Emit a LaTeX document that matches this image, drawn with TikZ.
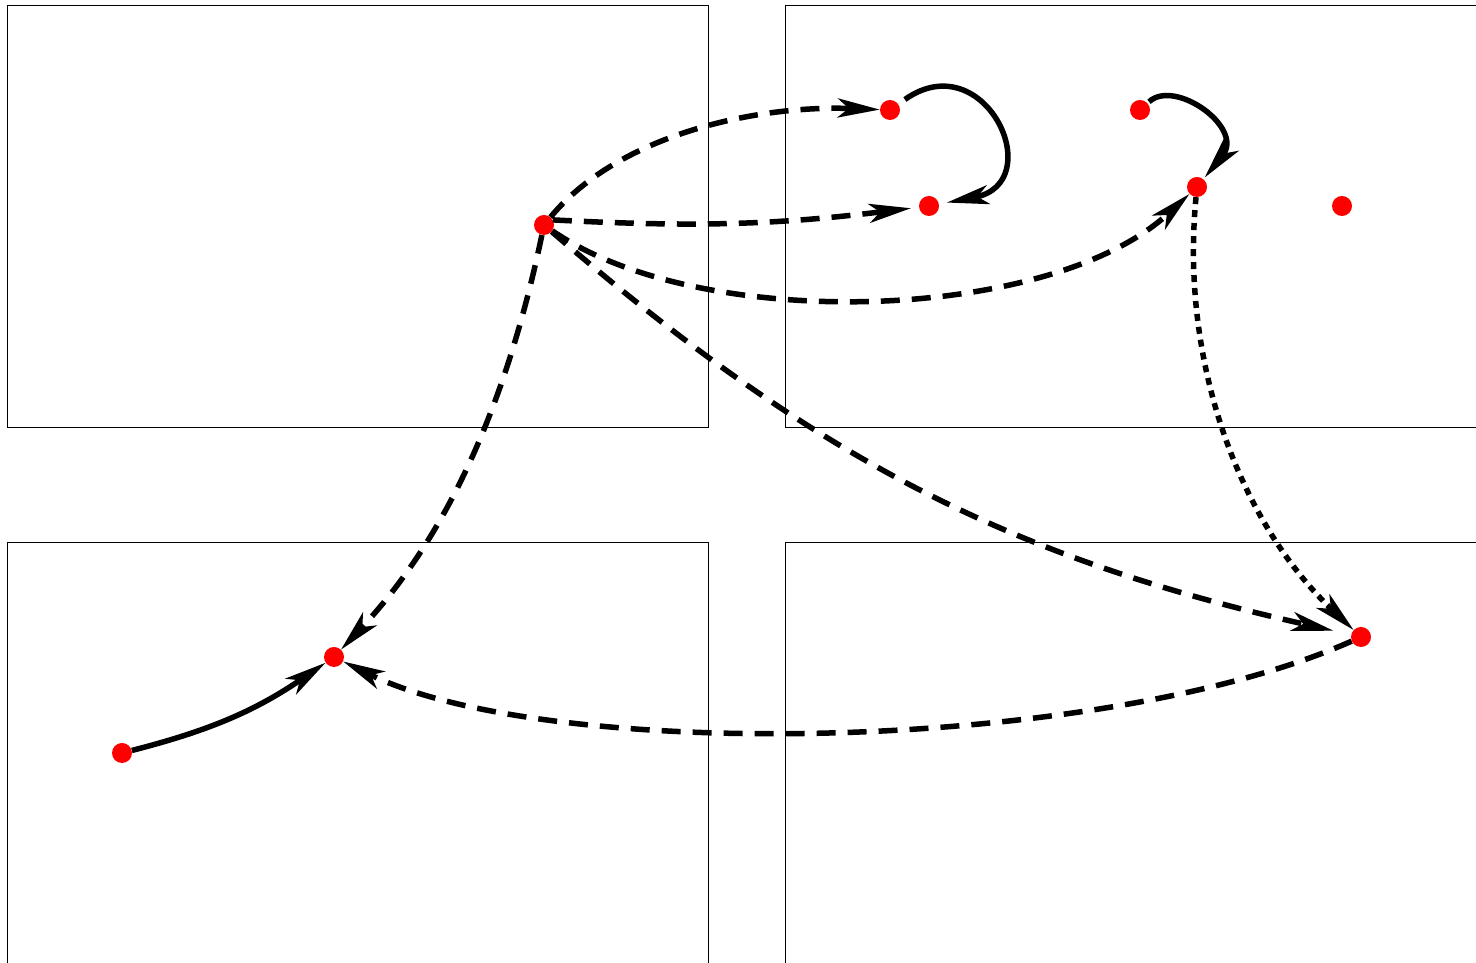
\documentclass[tikz,border=0pt]{standalone}
\usetikzlibrary{arrows.meta}
\begin{document}
\begin{tikzpicture}[x=1pt,y=1pt,
  dot/.style={circle,fill=red,draw=none,minimum size=20pt,inner sep=0pt},
  panel/.style={draw=black,line width=0.8pt},
  edge/.style={line width=5.5pt,-{Stealth[length=42pt,width=19pt,inset=11pt]}},
  dsh/.style={edge,dash pattern=on 19pt off 12pt},
  dtt/.style={edge,dash pattern=on 7pt off 6pt}]
\useasboundingbox (0,0) rectangle (1476,963);
\clip (0,0) rectangle (1476,963);
% panels
\draw[panel] (7,536) rectangle (708,958);
\draw[panel] (785,536) rectangle (1490,958);
\draw[panel] (7,-10) rectangle (708,421);
\draw[panel] (785,-10) rectangle (1490,421);
% dots
\node[dot] (A) at (544,738) {};
\node[dot] (B) at (890,853) {};
\node[dot] (C) at (929,757) {};
\node[dot] (D) at (1140,853) {};
\node[dot] (E) at (1197,776) {};
\node[dot] (F) at (1342,757) {};
\node[dot] (G) at (1361,326) {};
\node[dot] (H) at (334,306) {};
\node[dot] (I) at (122,210) {};
% edges
\draw[dsh] (A) .. controls (620,830) and (760,858) .. (B);
\draw[dsh,shorten >=8pt] (A.30) to[bend right=5] (C);
\draw[dsh] (A) .. controls (700,630) and (1050,640) .. (E);
\draw[dsh] (A) .. controls (515,600) and (465,445) .. (H);
\draw[dsh,shorten >=18pt] (A) to[bend right=14] (G);
\draw[edge,shorten <=8pt,shorten >=8pt] (B) .. controls (985,920) and (1050,780) .. (C);
\draw[edge,shorten <=2pt,shorten >=2pt] (D) .. controls (1175,885) and (1245,835) .. (E);
\draw[dtt] (E) .. controls (1180,600) and (1240,440) .. (G);
\draw[dsh] (G) .. controls (1100,210) and (550,200) .. (H);
\draw[edge] (I) to[bend right=10] (H);
\end{tikzpicture}
\end{document}
